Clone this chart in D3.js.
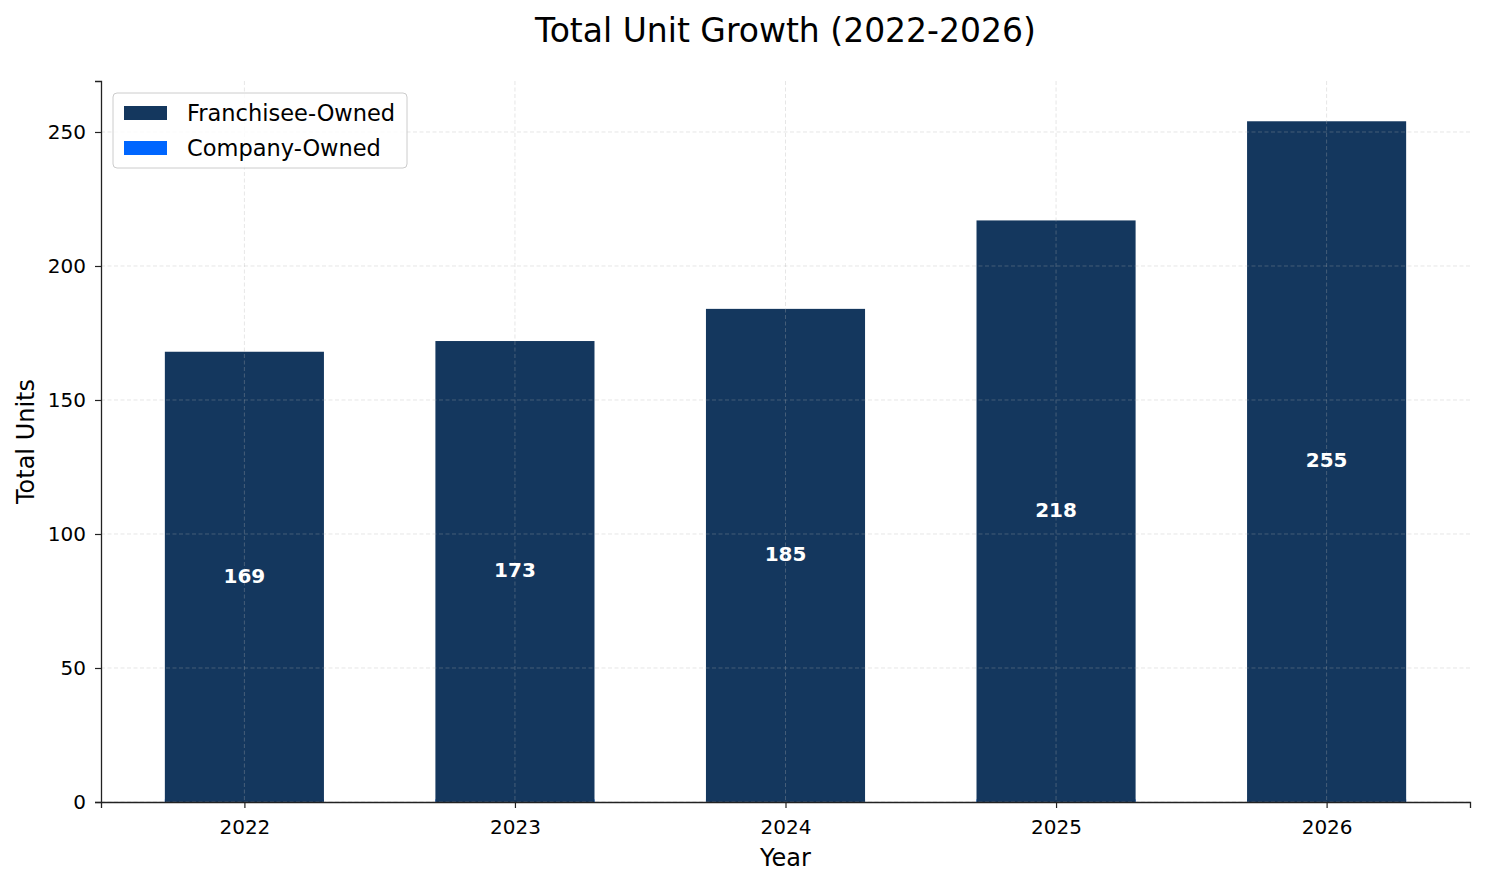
<!DOCTYPE html>
<html>
<head>
<meta charset="utf-8">
<script src="https://cdn.jsdelivr.net/npm/d3@7"></script>
<style>
  body { margin: 0; background: #fff; }
  svg { font-family: "DejaVu Sans", sans-serif; }
</style>
</head>
<body>
<div id="chart"></div>
<script>
// chart data
var years = ['2022', '2023', '2024', '2025', '2026'];
var franchiseeOwned = [168, 172, 184, 217, 254];
var companyOwned = [1, 1, 1, 1, 1];
var yTicks = [0, 50, 100, 150, 200, 250];

var width = 1485, height = 884;
var margin = {top: 81, right: 15, bottom: 82, left: 101};
var navy = '#14375e', blue = '#0066ff';

var totals = years.map(function(y, i) { return franchiseeOwned[i] + companyOwned[i]; });

var svg = d3.select('#chart').append('svg').attr('width', width).attr('height', height);

var x = d3.scaleLinear()
  .domain([-0.53, years.length - 1 + 0.53])
  .range([margin.left, width - margin.right]);
var y = d3.scaleLinear()
  .domain([0, d3.max(totals) * 1.055])
  .range([height - margin.bottom, margin.top]);
var barW = x(0.588) - x(0);

// company-owned drawn first, franchisee on top (as in the source picture)
svg.append('g').selectAll('rect.company')
  .data(companyOwned)
  .enter().append('rect')
  .attr('x', function(d, i) { return x(i) - barW / 2; })
  .attr('y', function(d) { return y(d); })
  .attr('width', barW)
  .attr('height', function(d) { return y(0) - y(d); })
  .attr('fill', blue);

svg.append('g').selectAll('rect.fr')
  .data(franchiseeOwned)
  .enter().append('rect')
  .attr('x', function(d, i) { return x(i) - barW / 2; })
  .attr('y', function(d) { return y(d); })
  .attr('width', barW)
  .attr('height', function(d) { return y(0) - y(d); })
  .attr('fill', navy);

// grid over bars
var grid = svg.append('g').attr('stroke', '#b0b0b0').attr('stroke-opacity', 0.4)
  .attr('stroke-dasharray', '4,2.5').attr('stroke-width', 0.8);
yTicks.forEach(function(t) {
  grid.append('line').attr('x1', margin.left).attr('x2', width - margin.right)
    .attr('y1', y(t)).attr('y2', y(t));
});
years.forEach(function(t, i) {
  grid.append('line').attr('x1', x(i)).attr('x2', x(i))
    .attr('y1', margin.top).attr('y2', height - margin.bottom);
});

// total labels in the middle of each bar
svg.append('g').selectAll('text')
  .data(totals)
  .enter().append('text')
  .attr('x', function(d, i) { return x(i); })
  .attr('y', function(d) { return y(d / 2); })
  .attr('dy', '0.35em')
  .attr('text-anchor', 'middle')
  .attr('fill', '#fff')
  .attr('font-weight', 'bold')
  .attr('font-size', 20)
  .text(function(d) { return d; });

// axes
var xAxis = d3.axisBottom(x).tickValues(d3.range(years.length))
  .tickFormat(function(i) { return years[i]; }).tickSizeOuter(0).tickSize(6).tickPadding(12);
var yAxis = d3.axisLeft(y).tickValues(yTicks).tickSizeOuter(0).tickSize(6).tickPadding(9);

var gx = svg.append('g').attr('transform', 'translate(0,' + y(0) + ')').call(xAxis);
var gy = svg.append('g').attr('transform', 'translate(' + margin.left + ',0)').call(yAxis);
[gx, gy].forEach(function(g) {
  g.selectAll('text').attr('font-size', 20).attr('fill', '#000').attr('font-family', '"DejaVu Sans", sans-serif');
  g.selectAll('line').attr('stroke', '#222').attr('stroke-width', 1.2);
  g.select('.domain').attr('stroke', '#222').attr('stroke-width', 1.3);
});

// titles
svg.append('text').attr('x', (margin.left + width - margin.right) / 2).attr('y', 42)
  .attr('text-anchor', 'middle').attr('font-size', 33).text('Total Unit Growth (2022-2026)');
svg.append('text').attr('x', (margin.left + width - margin.right) / 2).attr('y', 866)
  .attr('text-anchor', 'middle').attr('font-size', 24).text('Year');
svg.append('text')
  .attr('transform', 'translate(34,' + (margin.top + height - margin.bottom) / 2 + ') rotate(-90)')
  .attr('text-anchor', 'middle').attr('font-size', 24).text('Total Units');

// legend
var legend = svg.append('g').attr('transform', 'translate(113,93)');
legend.append('rect').attr('width', 294).attr('height', 75).attr('rx', 4)
  .attr('fill', '#fff').attr('fill-opacity', 0.8).attr('stroke', '#ccc');
var items = [['Franchisee-Owned', navy], ['Company-Owned', blue]];
items.forEach(function(it, i) {
  var row = legend.append('g').attr('transform', 'translate(11,' + (13 + i * 35) + ')');
  row.append('rect').attr('width', 43).attr('height', 14).attr('fill', it[1]);
  row.append('text').attr('x', 63).attr('y', 7).attr('dy', '0.35em')
    .attr('font-size', 22.5).text(it[0]);
});
</script>
</body>
</html>
